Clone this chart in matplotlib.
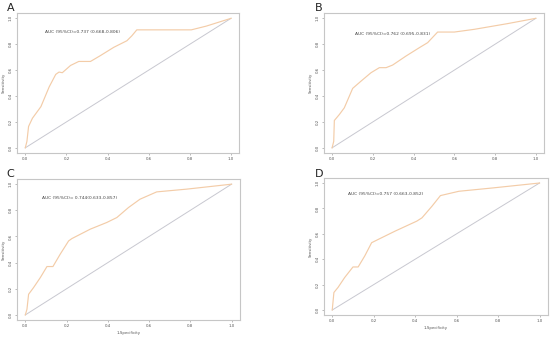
import matplotlib
matplotlib.use("Agg")
import matplotlib.pyplot as plt

# ROC curve points (1-specificity, sensitivity)
fpr_a = [0, 0.008, 0.016, 0.035, 0.076, 0.116, 0.148, 0.164, 0.18, 0.22, 0.26, 0.317, 0.365, 0.43, 0.494, 0.518, 0.542, 0.807, 0.88, 1.0]
tpr_a = [0, 0.05, 0.165, 0.229, 0.318, 0.47, 0.567, 0.585, 0.58, 0.636, 0.667, 0.667, 0.712, 0.776, 0.827, 0.865, 0.911, 0.911, 0.94, 1.0]

fpr_b = [0, 0.008, 0.011, 0.036, 0.06, 0.101, 0.142, 0.191, 0.232, 0.265, 0.297, 0.363, 0.428, 0.469, 0.518, 0.6, 0.698, 0.861, 1.0]
tpr_b = [0, 0.05, 0.211, 0.258, 0.309, 0.459, 0.515, 0.58, 0.619, 0.619, 0.639, 0.709, 0.773, 0.812, 0.894, 0.894, 0.915, 0.959, 1.0]

fpr_c = [0, 0.008, 0.016, 0.04, 0.073, 0.105, 0.134, 0.169, 0.21, 0.226, 0.315, 0.395, 0.444, 0.5, 0.556, 0.637, 0.782, 1.0]
tpr_c = [0, 0.043, 0.158, 0.209, 0.286, 0.37, 0.37, 0.464, 0.566, 0.584, 0.656, 0.707, 0.745, 0.821, 0.885, 0.941, 0.962, 1.0]

fpr_d = [0, 0.008, 0.028, 0.06, 0.1, 0.125, 0.157, 0.19, 0.222, 0.303, 0.408, 0.433, 0.481, 0.522, 0.611, 0.773, 1.0]
tpr_d = [0, 0.138, 0.178, 0.256, 0.339, 0.339, 0.426, 0.53, 0.556, 0.621, 0.7, 0.726, 0.817, 0.901, 0.935, 0.961, 1.0]

panel_labels = ["A", "B", "C", "D"]
auc_texts = [
    "AUC (95%CI)=0.737 (0.668-0.806)",
    "AUC (95%CI)=0.762 (0.695-0.831)",
    "AUC (95%CI)= 0.744(0.633-0.857)",
    "AUC (95%CI)=0.757 (0.663-0.852)",
]
ticks = [0.0, 0.2, 0.4, 0.6, 0.8, 1.0]
tick_labels = ["0.0", "0.2", "0.4", "0.6", "0.8", "1.0"]

curves = [(fpr_a, tpr_a), (fpr_b, tpr_b), (fpr_c, tpr_c), (fpr_d, tpr_d)]
positions = [
    [0.031, 0.546, 0.404, 0.415],
    [0.589, 0.546, 0.400, 0.415],
    [0.031, 0.050, 0.405, 0.419],
    [0.589, 0.065, 0.407, 0.407],
]
label_pos = [(0.012, 0.975), (0.573, 0.975), (0.012, 0.485), (0.573, 0.485)]
text_pos = [(0.126, 0.864), (0.14, 0.85), (0.11, 0.865), (0.107, 0.883)]
show_xlabel = [False, False, True, True]

curve_color = "#F3CCA8"
diag_color = "#C8C8D0"
frame_color = "#C6C6C6"

fig = plt.figure(figsize=(5.5, 3.37), dpi=100)
for i, (fpr, tpr) in enumerate(curves):
    ax = fig.add_axes(positions[i])
    ax.plot([0, 1], [0, 1], color=diag_color, lw=0.7)
    ax.plot(fpr, tpr, color=curve_color, lw=0.85)
    ax.set_xlim(-0.04, 1.04)
    ax.set_ylim(-0.04, 1.04)
    ax.set_xticks(ticks)
    ax.set_xticklabels(tick_labels, fontsize=2.8, color="#555555")
    ax.set_yticks(ticks)
    ax.set_yticklabels(tick_labels, fontsize=2.8, color="#555555", rotation=90, va="center")
    ax.tick_params(length=1.5, width=0.4, color="#888888", pad=1.5)
    for s in ax.spines.values():
        s.set_color(frame_color)
        s.set_linewidth(0.8)
    ax.set_ylabel("Sensitivity", fontsize=2.8, color="#555555", labelpad=2)
    if show_xlabel[i]:
        ax.set_xlabel("1-Specificity", fontsize=2.8, color="#555555", labelpad=2)
    ax.text(text_pos[i][0], text_pos[i][1], auc_texts[i], transform=ax.transAxes,
            fontsize=3.2, color="#444444", va="center", ha="left")
    fig.text(label_pos[i][0], label_pos[i][1], panel_labels[i], fontsize=8,
             color="#222222", va="center", ha="left")

fig.savefig("out.png", dpi=100, facecolor="white")
